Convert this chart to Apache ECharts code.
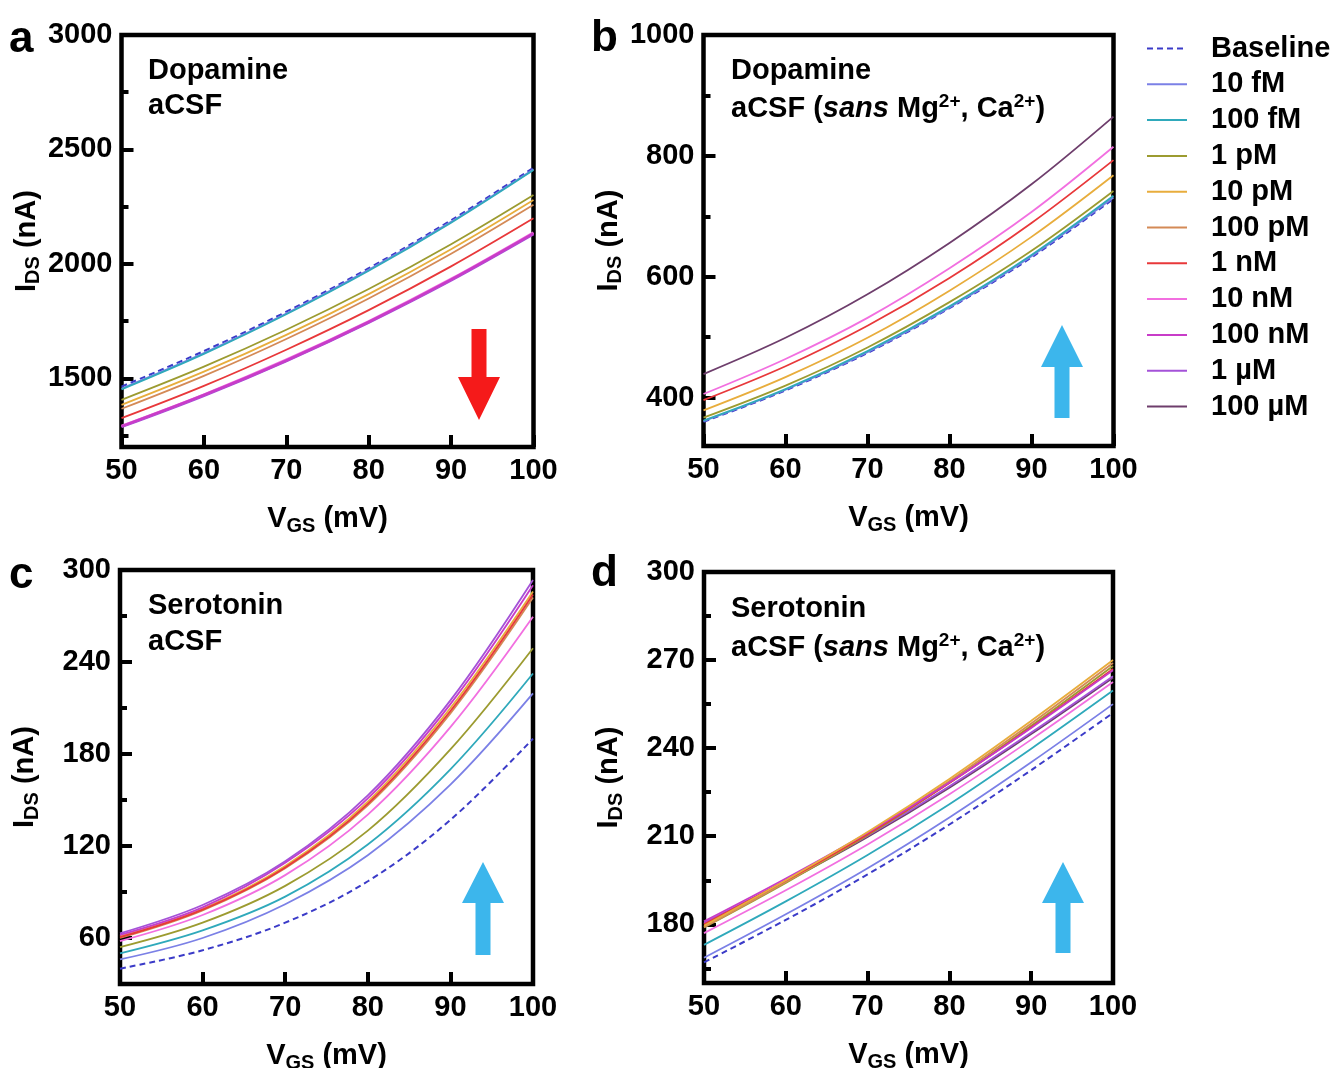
<!DOCTYPE html>
<html><head><meta charset="utf-8">
<script src="https://cdn.jsdelivr.net/npm/echarts@6/dist/echarts.min.js"></script>
<style>html,body{margin:0;padding:0;background:#fff}#c{width:1334px;height:1068px}</style>
</head><body><div id="c"></div>
<script>
// ---------- data ----------
const vgs = [50, 60, 70, 80, 90, 100];
const seriesNames = ['Baseline','10 fM','100 fM','1 pM','10 pM','100 pM','1 nM','10 nM','100 nM','1 µM','100 µM'];
const seriesColors = ['#3b3bc8','#7b80e6','#2fa9bb','#9c9b30','#e8ad3c','#d48a56','#e8383a','#f26fe0','#c83cc8','#a452d8','#6e3e6c'];

// panel a: Dopamine, aCSF
const aBaseline = [1464, 1619, 1791, 1981, 2191, 2420];
const a10fM     = [1455, 1610, 1783, 1974, 2184, 2414];
const a100fM    = [1452, 1607, 1780, 1970, 2180, 2410];
const a1pM      = [1406, 1551, 1712, 1890, 2086, 2301];
const a10pM     = [1384, 1529, 1690, 1868, 2064, 2279];
const a100pM    = [1367, 1511, 1672, 1849, 2044, 2258];
const a1nM      = [1326, 1467, 1625, 1798, 1989, 2199];
const a10nM     = [1292, 1429, 1581, 1749, 1934, 2137];
const a100nM    = [1290, 1427, 1578, 1746, 1931, 2133];
const a1uM      = [1288, 1424, 1576, 1744, 1928, 2130];

// panel b: Dopamine, aCSF (sans Mg, Ca)
const bBaseline = [360, 412, 474, 548, 632, 729];
const b10fM     = [361, 413, 475, 549, 634, 731];
const b100fM    = [362, 414, 477, 551, 636, 734];
const b1pM      = [367, 420, 483, 558, 643, 742];
const b10pM     = [379, 434, 499, 577, 666, 768];
const b1nM      = [396, 452, 519, 598, 689, 793];
const b10nM     = [406, 464, 532, 614, 707, 815];
const b100uM    = [439, 499, 571, 656, 753, 865];

// panel c: Serotonin, aCSF
const cBaseline = [40, 52, 70, 97, 137, 190];
const c10fM     = [46, 60, 82, 114, 160, 219.5];
const c100fM    = [50, 65, 87, 121, 170, 232.5];
const c1pM      = [54, 70, 94, 130, 183, 249];
const c10pM     = [61, 79, 107, 149, 210, 286];
const c100pM    = [60, 78, 105.5, 146.5, 206.5, 282];
const c1nM      = [60.5, 78.5, 106, 147.5, 208, 284];
const c10nM     = [58, 75, 101, 140.5, 197.5, 269.5];
const c100nM    = [62, 80, 109, 151, 212.5, 290];
const c1uM      = [63, 81.5, 110, 153, 215, 293.5];

// panel d: Serotonin, aCSF (sans Mg, Ca)
const dBaseline = [167, 181.5, 197, 214, 232.5, 252];
const d10fM     = [168.6, 183.4, 199.1, 216.4, 235.2, 255];
const d100fM    = [173, 187.8, 203.6, 220.9, 239.8, 259.6];
const d1pM      = [178.9, 194.1, 210.3, 228.2, 247.6, 268];
const d10pM     = [179.5, 195, 211.4, 229.5, 249.3, 270];
const d100pM    = [179, 194.4, 210.8, 228.8, 248.4, 269];
const d1nM      = [180, 194.9, 210.7, 228.1, 247.1, 267];
const d10nM     = [177, 191.6, 207.2, 224.3, 242.9, 262.5];
const d100nM    = [181, 195.6, 211.2, 228.3, 246.9, 266.5];
const d1uM      = [180.5, 194.9, 210.2, 227, 245.3, 264.5];
const d100uM    = [180, 194.4, 209.7, 226.5, 244.8, 264];

// ticks
const xTicks = [50, 60, 70, 80, 90, 100];
const aYTicks = [1500, 2000, 2500, 3000], aYMinor = [1250, 1750, 2250, 2750];
const bYTicks = [400, 600, 800, 1000],     bYMinor = [500, 700, 900];
const cYTicks = [60, 120, 180, 240, 300],  cYMinor = [90, 150, 210, 270];
const dYTicks = [180, 210, 240, 270, 300], dYMinor = [165, 195, 225, 255, 285];

// ---------- chart ----------
const FONT = '"Liberation Sans", Arial, Helvetica, sans-serif';
const FS = 29;
const chart = echarts.init(document.getElementById('c'), null, {renderer: 'canvas'});

const grids = [
  {left: 121.5, top: 35, width: 412, height: 412},
  {left: 703.5, top: 35, width: 410, height: 411},
  {left: 120,   top: 570, width: 413, height: 414},
  {left: 704,   top: 572, width: 409, height: 411}
];
const yCfg = [
  {min: 1200, max: 3000, step: 100, ticks: aYTicks, minor: aYMinor},
  {min: 320,  max: 1000, step: 20,  ticks: bYTicks, minor: bYMinor},
  {min: 30,   max: 300,  step: 30,  ticks: cYTicks, minor: cYMinor},
  {min: 160,  max: 300,  step: 5,   ticks: dYTicks, minor: dYMinor}
];
const panelSeries = [
  [[0,aBaseline],[1,a10fM],[2,a100fM],[3,a1pM],[4,a10pM],[5,a100pM],[6,a1nM],[9,a1uM],[7,a10nM],[8,a100nM]],
  [[0,bBaseline],[1,b10fM],[2,b100fM],[3,b1pM],[4,b10pM],[6,b1nM],[7,b10nM],[10,b100uM]],
  [[0,cBaseline],[1,c10fM],[2,c100fM],[3,c1pM],[5,c100pM],[4,c10pM],[6,c1nM],[7,c10nM],[8,c100nM],[9,c1uM]],
  [[0,dBaseline],[1,d10fM],[2,d100fM],[10,d100uM],[7,d10nM],[9,d1uM],[3,d1pM],[5,d100pM],[6,d1nM],[8,d100nM],[4,d10pM]]
];

const labelStyle = {fontSize: FS, fontWeight: 'bold', color: '#000', fontFamily: FONT};
const nameRich = {
  m: {fontSize: FS, fontWeight: 'bold', color: '#000', fontFamily: FONT, lineHeight: 34},
  s: {fontSize: 20, fontWeight: 'bold', color: '#000', fontFamily: FONT, lineHeight: 12, verticalAlign: 'bottom'}
};
const plain = v => String(v);

const xAxis = [], yAxis = [], series = [];
grids.forEach((g, gi) => {
  xAxis.push({
    type: 'value', gridIndex: gi, min: 50, max: 100, interval: 10,
    axisLine: {show: false}, splitLine: {show: false},
    axisTick: {show: true, inside: true, length: 12, lineStyle: {color: '#000', width: 4}},
    axisLabel: Object.assign({margin: 9, customValues: xTicks, formatter: plain}, labelStyle),
    name: '{m|V}{s|GS}{m| (mV)}', nameLocation: 'middle', nameGap: 55,
    nameTextStyle: {rich: nameRich}
  });
  const c = yCfg[gi];
  yAxis.push({
    type: 'value', gridIndex: gi, min: c.min, max: c.max, interval: c.step, position: 'left',
    axisLine: {show: false}, splitLine: {show: false},
    axisTick: {show: true, inside: true, length: 12, lineStyle: {color: '#000', width: 4}, customValues: c.ticks},
    axisLabel: Object.assign({margin: 9, customValues: c.ticks, formatter: plain}, labelStyle),
    name: '{m|I}{s|DS}{m| (nA)}', nameLocation: 'middle', nameGap: 78,
    nameTextStyle: {rich: nameRich}
  });
  yAxis.push({
    type: 'value', gridIndex: gi, min: c.min, max: c.max, interval: c.step, position: 'left',
    axisLine: {show: false}, splitLine: {show: false}, axisLabel: {show: false},
    axisTick: {show: true, inside: true, length: 7, lineStyle: {color: '#000', width: 4}, customValues: c.minor}
  });
  panelSeries[gi].forEach(([ni, vals]) => {
    series.push({
      type: 'line', name: seriesNames[ni], xAxisIndex: gi, yAxisIndex: gi * 2,
      data: vgs.map((x, i) => [x, vals[i]]),
      smooth: 0.35, symbol: 'none', silent: true,
      color: seriesColors[ni],
      lineStyle: {color: seriesColors[ni], width: ni === 0 ? 2 : (gi === 0 && ni >= 7 ? 2.6 : 1.8), type: ni === 0 ? [6, 4] : 'solid'}
    });
  });
});

function arrowDown(cx, top, headBase, tip, shaftW, headW, color) {
  return {type: 'polygon', shape: {points: [
    [cx - shaftW/2, top], [cx + shaftW/2, top], [cx + shaftW/2, headBase], [cx + headW/2, headBase],
    [cx, tip], [cx - headW/2, headBase], [cx - shaftW/2, headBase]]}, style: {fill: color}, z: 50};
}
function arrowUp(cx, tip, headBase, bottom, shaftW, headW, color) {
  return {type: 'polygon', shape: {points: [
    [cx, tip], [cx + headW/2, headBase], [cx + shaftW/2, headBase], [cx + shaftW/2, bottom],
    [cx - shaftW/2, bottom], [cx - shaftW/2, headBase], [cx - headW/2, headBase]]}, style: {fill: color}, z: 50};
}
const annRich = {
  b: {fontSize: FS, fontWeight: 'bold', fill: '#000', fontFamily: FONT, lineHeight: 34},
  i: {fontSize: FS, fontWeight: 'bold', fontStyle: 'italic', fill: '#000', fontFamily: FONT, lineHeight: 34},
  p: {fontSize: 19, fontWeight: 'bold', fill: '#000', fontFamily: FONT, lineHeight: 18, verticalAlign: 'top'}
};
function txt(x, y, text, size) {
  return {type: 'text', x: x, y: y, z: 60, style: {text: text, fill: '#000', fontFamily: FONT, fontWeight: 'bold', fontSize: size || FS, verticalAlign: 'middle', align: 'left', rich: annRich}};
}
const sansLine = '{b|aCSF (}{i|sans}{b| Mg}{p|2+}{b|, Ca}{p|2+}{b|)}';
const graphic = [
  txt(9, 40, 'a', 44), txt(591, 39, 'b', 44), txt(9, 576, 'c', 44), txt(591, 574, 'd', 44),
  txt(148, 71, 'Dopamine'), txt(148, 106, 'aCSF'),
  txt(731, 71, 'Dopamine'), txt(731, 109, sansLine),
  txt(148, 606, 'Serotonin'), txt(148, 642, 'aCSF'),
  txt(731, 609, 'Serotonin'), txt(731, 648, sansLine),
  arrowDown(479, 329, 377, 420, 15, 42, '#f51a1a'),
  arrowUp(1062, 325, 367, 418, 15, 42, '#3cb6ec'),
  arrowUp(483, 862, 903, 955, 15, 42, '#3cb6ec'),
  arrowUp(1063, 862, 903, 953, 15, 42, '#3cb6ec')
];

chart.setOption({
  animation: false,
  backgroundColor: '#fff',
  textStyle: {fontFamily: FONT},
  grid: grids.map(g => Object.assign({show: true, borderColor: '#000', borderWidth: 4.5, backgroundColor: 'transparent', containLabel: false, outerBoundsMode: 'none'}, g)),
  xAxis: xAxis, yAxis: yAxis, series: series,
  legend: {
    orient: 'vertical', left: 1146, top: 34, padding: 0, itemWidth: 40, itemHeight: 14, itemGap: 6.8,
    selectedMode: false, data: seriesNames,
    itemStyle: {opacity: 0},
    textStyle: {fontSize: FS, fontWeight: 'bold', color: '#000', fontFamily: FONT, lineHeight: 28, padding: [0, 0, 0, 19]}
  },
  graphic: graphic
});
</script></body></html>
